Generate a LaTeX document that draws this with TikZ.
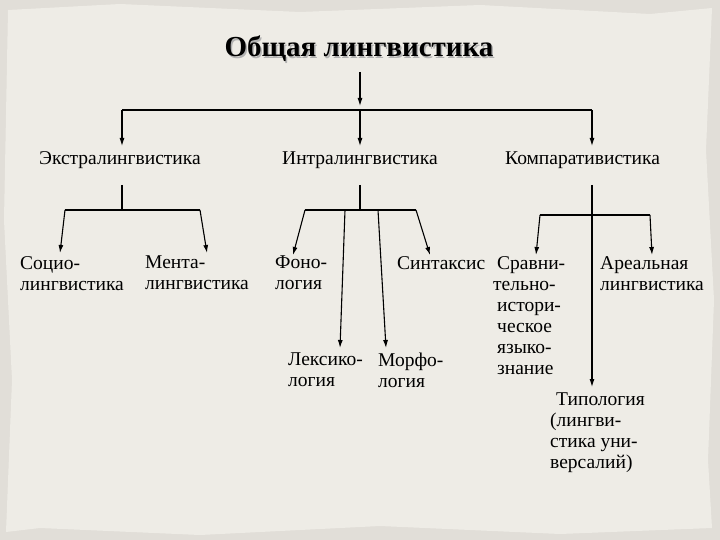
\documentclass[tikz,border=0pt]{standalone}
\usepackage{fontspec}
\setmainfont{Liberation Serif}
\usetikzlibrary{arrows.meta}
\begin{document}
\begin{tikzpicture}[x=1pt,y=-1pt,
  lbl/.style={font=\fontsize{19.5}{21}\selectfont, align=left, inner sep=0pt, anchor=north west},
  hd/.style={font=\fontsize{19.5}{21}\selectfont, inner sep=0pt, anchor=west},
  ttl/.style={font=\fontsize{29}{31}\selectfont\bfseries, inner sep=1pt},
  ar/.style={-{Latex[length=8pt,width=5pt]}, line width=1.1pt},
  ln/.style={line width=1.1pt}]
\definecolor{paper}{RGB}{238,236,230}
\definecolor{edge}{RGB}{205,200,190}
\useasboundingbox (0,0) rectangle (720,540);
\fill[edge!60!white] (0,0) rectangle (720,540);
\fill[paper] (8,10) -- (120,4) -- (300,12) -- (480,5) -- (650,14) -- (712,8) -- (706,150) -- (714,300) -- (708,460) -- (712,528) -- (560,534) -- (380,526) -- (200,535) -- (40,528) -- (6,532) -- (12,380) -- (4,220) -- cycle;
% title
\node[ttl,gray!60] at (360.5,50.5) {Общая лингвистика};
\node[ttl] (T) at (359,49) {Общая лингвистика};
\coordinate (t0) at (360,72);
\draw[ar] (t0) -- (360,106);
\draw[ln] (122,110) -- (592,110);
\node[hd] (E) at (39,160) {Экстралингвистика};
\node[hd] (I) at (282,160) {Интралингвистика};
\node[hd] (K) at (505,160) {Компаративистика};
\draw[ar] (122,110) -- (122,146);
\draw[ar] (360,110) -- (360,146);
\draw[ar] (592,110) -- (592,146);
% extra
\node[lbl] (S) at (20,256) {Социо-\\лингвистика};
\node[lbl] (M) at (145,256) {Мента-\\лингвистика};
\draw[ln] (122,185) -- (122,210);
\draw[ln] (65,210) -- (200,210);
\draw[ar] (65,210) -- (60,253);
\draw[ar] (200,210) -- (207,253);
% intra
\node[lbl] (F) at (275,256) {Фоно-\\логия};
\node[lbl] (Sx) at (397,256) {Синтаксис};
\node[lbl] (L) at (288,353) {Лексико-\\логия};
\node[lbl] (Mo) at (378,353) {Морфо-\\логия};
\draw[ln] (360,185) -- (360,210);
\draw[ln] (305,210) -- (416,210);
\draw[ar] (305,210) -- (293,255);
\draw[ar] (345,210) -- (340,348);
\draw[ar] (378,210) -- (386,348);
\draw[ar] (416,210) -- (430,255);
% compar
\node[lbl] (Sr) at (497,256) {Сравни-\\\hspace*{-4pt}тельно-\\истори-\\ческое\\языко-\\знание};
\node[lbl] (A) at (600,256) {Ареальная\\лингвистика};
\node[lbl] (Ty) at (550,393) {\hspace*{6pt}Типология\\(лингви-\\стика уни-\\версалий)};
\draw[ln] (592,185) -- (592,215);
\draw[ln] (540,215) -- (650,215);
\draw[ar] (540,215) -- (536,255);
\draw[ar] (650,215) -- (652,255);
\draw[ar] (592,215) -- (592,387);
\end{tikzpicture}
\end{document}
